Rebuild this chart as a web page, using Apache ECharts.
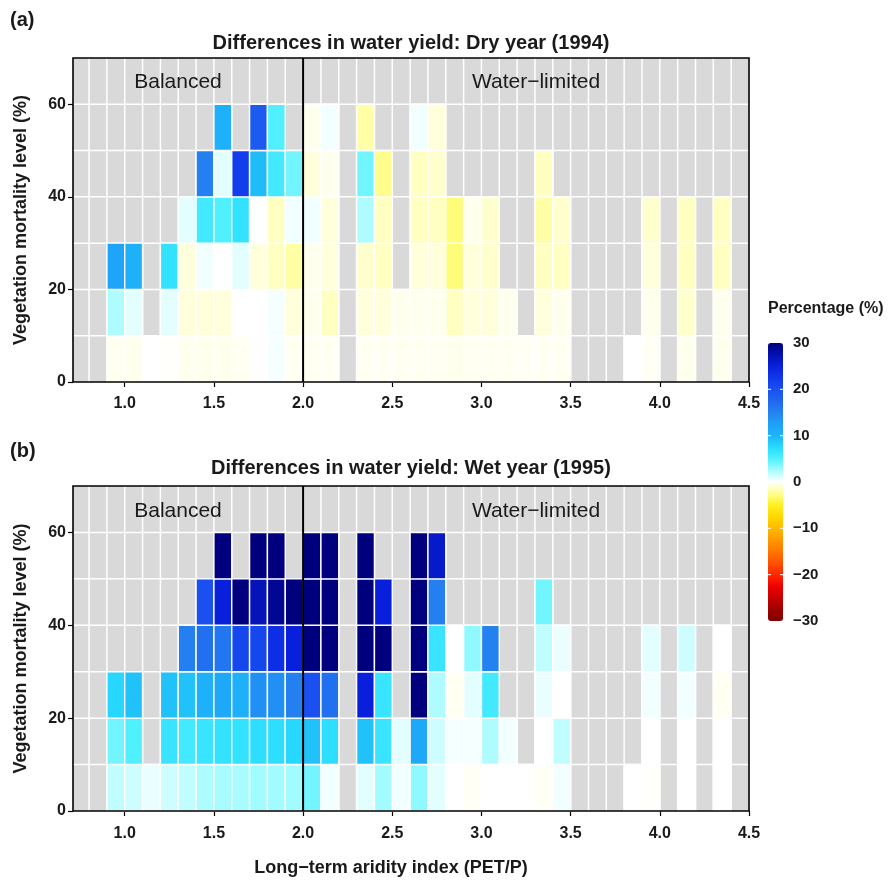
<!DOCTYPE html>
<html><head><meta charset="utf-8">
<script src="https://cdn.jsdelivr.net/npm/echarts@6/dist/echarts.min.js"></script>
<style>html,body{margin:0;padding:0;background:#fff}#chart{width:893px;height:883px}</style>
</head><body><div id="chart"></div>
<script>
const _ = null;
// x bins (left edges of aridity-index bins, width 0.1)
const xBinLeft = [0.9,1.0,1.1,1.2,1.3,1.4,1.5,1.6,1.7,1.8,1.9,2.0,2.1,2.2,2.3,2.4,2.5,2.6,2.7,2.8,2.9,3.0,3.1,3.2,3.3,3.4,3.5,3.6,3.7,3.8,3.9,4.0,4.1,4.2,4.3,4.4];
// y bins (bottom edges of mortality-level bins, height 10)
const yBinBottom = [0,10,20,30,40,50];
const xTickLabels = [1.0,1.5,2.0,2.5,3.0,3.5,4.0,4.5];
const yTickLabels = [0,20,40,60];
const colorbarTicks = [30,20,10,0,-10,-20,-30];

// Dry year (1994), rows = mortality bins 0-10 ... 50-60
const dryRow0 = [-0.3,-0.4,0,-0.1,-0.4,-0.4,-0.4,-0.3,0,0.3,-0.3,-0.3,-0.3,_,-0.3,-0.3,-0.3,-0.3,-0.3,-0.4,-0.3,-0.3,-0.3,-0.2,-0.3,-0.3,_,_,_,0,-0.2,_,-0.4,_,-0.4,_];
const dryRow1 = [2.3,0.8,_,0.8,-0.8,-0.8,-0.8,0,0,0.3,-0.8,-0.4,-1.4,_,-0.8,-0.8,-0.4,-0.4,-0.4,-1.4,-0.8,-0.8,-0.4,_,-0.8,-0.4,_,_,_,_,-0.4,_,-1.1,_,-0.4,_];
const dryRow2 = [12,10.5,_,6.8,-0.8,0.4,0,0.8,-0.8,-1.4,-2,-0.4,-0.8,_,-1.1,-1.4,_,-0.8,-0.8,-3,-0.8,-1.1,_,_,-1.4,-1.4,_,_,_,_,-0.8,_,-1.4,_,-1.4,_];
const dryRow3 = [_,_,_,_,0.8,5.8,5,6.8,0,-1.4,0.4,0.4,-0.8,_,2.3,-1.4,_,-1.4,-1.4,-3,-0.4,-1.1,_,_,-2,-1.1,_,_,_,_,-1.1,_,-1.4,_,-1.4,_];
const dryRow4 = [_,_,_,_,_,15.2,0.8,22,9.5,5.8,4,-0.8,-0.4,_,4,-2.6,_,-1.4,-1.1,_,_,_,_,_,-1.4,_,_,_,_,_,_,_,_,_,_,_];
const dryRow5 = [_,_,_,_,_,_,10.5,_,19,5,_,-0.4,0.4,_,-2,_,_,0.4,-0.8,_,_,_,_,_,_,_,_,_,_,_,_,_,_,_,_,_];

// Wet year (1995)
const wetRow0 = [1.8,1.4,0.6,1.4,1.8,2.3,2.5,2.5,2.7,2.7,2.7,4,0.4,_,0.8,2.7,0.4,3.2,0.8,0,-0.2,0,0,0,-0.2,0.4,_,_,_,0,-0.1,_,0,_,0,_];
const wetRow1 = [4,5,_,6.5,5.8,6.5,6.8,6.8,7.2,7.2,7.8,9.2,7.2,_,9.2,6.5,0.8,11.5,1.4,0.3,0.3,2.3,0.4,_,0,1.8,_,_,_,_,0,_,0,_,0,_];
const wetRow2 = [7.8,9.2,_,9.2,9.2,10.5,11.5,10.5,13.8,13.8,15.2,20,16.7,_,25,6.5,_,30,2.3,-0.3,0.8,5.8,_,_,0.6,0,_,_,_,_,0.4,_,0.4,_,-0.3,_];
const wetRow3 = [_,_,_,_,15.2,16.7,16.2,21,21,23.5,25,30,30,_,30,30,_,30,6.5,0,3.2,15,_,_,1.8,0.6,_,_,_,_,0.8,_,1.4,_,0,_];
const wetRow4 = [_,_,_,_,_,20,25,30,27,29,30,30,30,_,30,25,_,30,15.2,_,_,_,_,_,4,_,_,_,_,_,_,_,_,_,_,_];
const wetRow5 = [_,_,_,_,_,_,30,_,30,30,_,30,30,_,30,_,_,30,26,_,_,_,_,_,_,_,_,_,_,_,_,_,_,_,_,_];

const paletteColors = ['#800000','#a00000','#c80000','#ee0000','#ff2800','#ff5000','#ff7800','#ff9800','#ffb800','#ffd800','#fff020','#ffff90','#ffffff','#a8fcff','#50f0ff','#28dcff','#1eb4f8','#1ea0f8','#2482f0','#2068f0','#1a50f0','#1038ec','#0820dc','#0410b0','#00007f'];

const xMin = 0.71, xMax = 4.5, yMin = 0, yMax = 70, xStep = 0.1, yStep = 10, dividerX = 2.0;
const FONT = '"Liberation Sans", Arial, Helvetica, sans-serif';

function buildCells(rows) {
  const out = [];
  rows.forEach((row, j) => row.forEach((v, i) => { if (v !== null) out.push([xBinLeft[i], yBinBottom[j], v]); }));
  return out;
}
const dryCells = buildCells([dryRow0,dryRow1,dryRow2,dryRow3,dryRow4,dryRow5]);
const wetCells = buildCells([wetRow0,wetRow1,wetRow2,wetRow3,wetRow4,wetRow5]);
const gridX = [0.8].concat(xBinLeft);
const gridY = yBinBottom.slice(1).concat([60]);

function panelSeries(gi, cells) {
  return [
    { type:'custom', xAxisIndex:gi, yAxisIndex:gi, silent:true, z:1,
      data: gridX.map(x => [x, yMin]),
      renderItem:(p, api) => { const a = api.coord([api.value(0), yMin]), b = api.coord([api.value(0), yMax]);
        return {type:'line', shape:{x1:a[0],y1:a[1],x2:b[0],y2:b[1]}, style:{stroke:'#ffffff', lineWidth:1.5}}; } },
    { type:'custom', xAxisIndex:gi, yAxisIndex:gi, silent:true, z:1,
      data: gridY.map(y => [xMin, y]),
      renderItem:(p, api) => { const a = api.coord([xMin, api.value(1)]), b = api.coord([xMax, api.value(1)]);
        return {type:'line', shape:{x1:a[0],y1:a[1],x2:b[0],y2:b[1]}, style:{stroke:'#ffffff', lineWidth:1.5}}; } },
    { type:'custom', xAxisIndex:gi, yAxisIndex:gi, silent:true, z:2,
      encode:{x:0, y:1}, data: cells,
      renderItem:(p, api) => { const x0 = api.value(0), y0 = api.value(1);
        const a = api.coord([x0, y0 + yStep]), b = api.coord([x0 + xStep, y0]);
        return {type:'rect', shape:{x:a[0], y:a[1], width:b[0]-a[0], height:b[1]-a[1]},
          style:{fill: api.visual('color'), stroke:'#ffffff', lineWidth:1.4}}; } },
    { type:'custom', xAxisIndex:gi, yAxisIndex:gi, silent:true, z:3,
      data: [[dividerX, yMin]],
      renderItem:(p, api) => { const a = api.coord([api.value(0), yMin]), b = api.coord([api.value(0), yMax]);
        return {type:'line', shape:{x1:a[0],y1:a[1],x2:b[0],y2:b[1]}, style:{stroke:'#000000', lineWidth:2}}; } },
    { type:'custom', xAxisIndex:gi, yAxisIndex:gi, silent:true, z:4,
      data: [[xMin, yMin]],
      renderItem:(p, api) => { const a = api.coord([xMin, yMax]), b = api.coord([xMax, yMin]);
        return {type:'rect', shape:{x:a[0], y:a[1], width:b[0]-a[0], height:b[1]-a[1]},
          style:{fill:'none', stroke:'#000000', lineWidth:1.6}}; } }
  ];
}

function xAxisFor(gi, margin) {
  return { type:'value', gridIndex:gi, min:xMin, max:xMax,
    axisLine:{show:false}, splitLine:{show:false},
    axisTick:{show:true, customValues:xTickLabels, length:5, lineStyle:{color:'#000', width:1.2}},
    axisLabel:{show:true, customValues:xTickLabels, margin:margin, formatter:v => Number(v).toFixed(1),
      color:'#1a1a1a', fontFamily:FONT, fontWeight:'bold', fontSize:16} };
}
function yAxisFor(gi) {
  return { type:'value', gridIndex:gi, min:yMin, max:yMax,
    axisLine:{show:false}, splitLine:{show:false},
    axisTick:{show:true, customValues:yTickLabels, length:5, lineStyle:{color:'#000', width:1.2}},
    axisLabel:{show:true, customValues:yTickLabels, margin:7, color:'#1a1a1a', fontFamily:FONT, fontWeight:'bold', fontSize:16},
    name:'Vegetation mortality level (%)', nameLocation:'middle', nameGap:43, nameRotate:90,
    nameTextStyle:{color:'#1a1a1a', fontFamily:FONT, fontWeight:'bold', fontSize:18} };
}

const plotLeft = 73, plotWidth = 676;
const cbLeft = 768, cbTop = 343, cbWidth = 15, cbHeight = 278, cbMin = -30, cbMax = 30;

const graphics = [];
function txt(x, y, s, size, weight, align) {
  graphics.push({type:'text', x:x, y:y, z:100, silent:true, style:{text:s, fill:'#1a1a1a', font: weight + ' ' + size + 'px ' + FONT, textAlign:align, textVerticalAlign:'middle'}});
}
txt(10, 20, '(a)', 20, 'bold', 'left');
txt(411, 43, 'Differences in water yield: Dry year (1994)', 20, 'bold', 'center');
txt(10, 451, '(b)', 20, 'bold', 'left');
txt(411, 468, 'Differences in water yield: Wet year (1995)', 20, 'bold', 'center');
txt(178, 82, 'Balanced', 21, 'normal', 'center');
txt(536, 82, 'Water\u2212limited', 21, 'normal', 'center');
txt(178, 511, 'Balanced', 21, 'normal', 'center');
txt(536, 511, 'Water\u2212limited', 21, 'normal', 'center');
txt(391, 868, 'Long\u2212term aridity index (PET/P)', 18, 'bold', 'center');
txt(768, 309, 'Percentage (%)', 16, 'bold', 'left');
colorbarTicks.forEach(v => {
  const y = cbTop + (cbMax - v) / (cbMax - cbMin) * cbHeight;
  txt(793, y, v < 0 ? '\u2212' + Math.abs(v) : String(v), 15, 'bold', 'left');
  if (v !== cbMax && v !== cbMin) {
    graphics.push({type:'line', silent:true, z:100, shape:{x1:cbLeft, y1:y, x2:cbLeft+3, y2:y}, style:{stroke:'#ffffff', lineWidth:1}});
    graphics.push({type:'line', silent:true, z:100, shape:{x1:cbLeft+cbWidth-3, y1:y, x2:cbLeft+cbWidth, y2:y}, style:{stroke:'#ffffff', lineWidth:1}});
  }
});

const chart = echarts.init(document.getElementById('chart'), null, {renderer:'canvas'});
chart.setOption({
  animation:false,
  backgroundColor:'#ffffff',
  grid:[
    {left:plotLeft, top:58, width:plotWidth, height:324, show:true, backgroundColor:'#d9d9d9', borderWidth:0, outerBoundsMode:'none', containLabel:false},
    {left:plotLeft, top:486, width:plotWidth, height:325, show:true, backgroundColor:'#d9d9d9', borderWidth:0, outerBoundsMode:'none', containLabel:false}
  ],
  xAxis:[xAxisFor(0, 14), xAxisFor(1, 15)],
  yAxis:[yAxisFor(0), yAxisFor(1)],
  visualMap:{type:'continuous', min:cbMin, max:cbMax, dimension:2, seriesIndex:[2,7],
    inRange:{color:paletteColors}, calculable:false, orient:'vertical',
    left:cbLeft, top:cbTop, itemWidth:cbWidth, itemHeight:cbHeight, padding:0, hoverLink:false, realtime:false},
  graphic:{elements:graphics},
  series: panelSeries(0, dryCells).concat(panelSeries(1, wetCells))
});
</script></body></html>
